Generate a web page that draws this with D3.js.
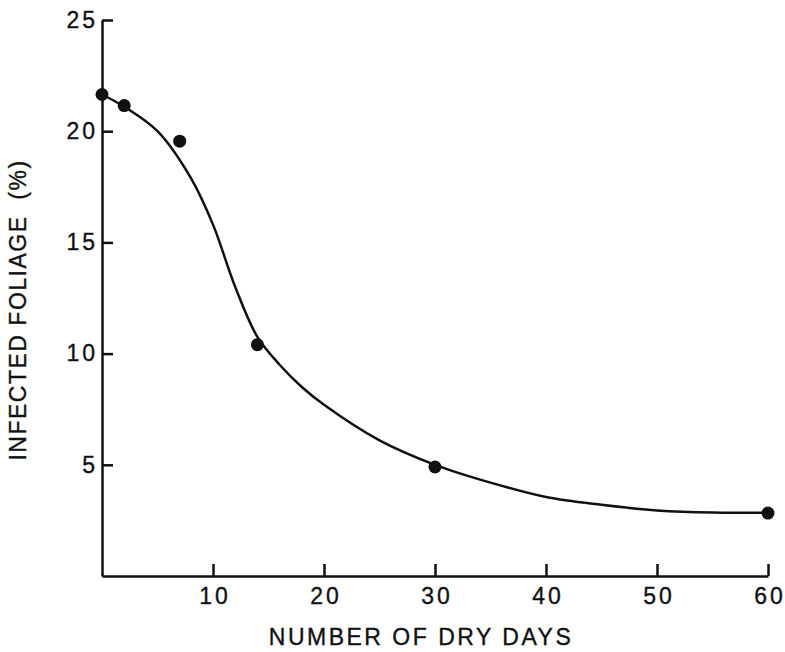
<!DOCTYPE html>
<html>
<head>
<meta charset="utf-8">
<script src="https://cdn.jsdelivr.net/npm/d3@7"></script>
<style>
  body { margin: 0; background: #fff; }
  svg text { font-family: "Liberation Sans", Arial, Helvetica, sans-serif; fill: #111; stroke: #111; stroke-width: 0.35; }
</style>
</head>
<body>
<svg id="chart"></svg>
<script>
// observed points
let dryDays = [0, 2, 7, 14, 30, 60]
let infected = [21.65, 21.15, 19.55, 10.4, 4.9, 2.83]

// fitted curve
let curveDays = [0, 2, 5, 8, 10, 12, 14, 16, 18, 20, 25, 30, 35, 40, 45, 50, 55, 60]
let curveValues = [21.65, 21.1, 20.0, 17.9, 15.8, 13.0, 10.75, 9.5, 8.5, 7.7, 6.1, 5.0, 4.2, 3.55, 3.2, 2.95, 2.85, 2.85]

let xTicks = [10, 20, 30, 40, 50, 60]
let yTicks = [5, 10, 15, 20, 25]

let width = 785, height = 652
let margin = { left: 102, right: 17, top: 20, bottom: 76 }

let svg = d3.select('#chart')
    .attr('width', width)
    .attr('height', height)

let x = d3.scaleLinear()
    .domain([0, 60])
    .range([margin.left, width - margin.right])

let y = d3.scaleLinear()
    .domain([0, 25])
    .range([height - margin.bottom, margin.top])

let xAxis = d3.axisBottom(x)
    .tickValues(xTicks)
    .tickSizeInner(-12)
    .tickSizeOuter(0)
    .tickPadding(12)

let yAxis = d3.axisLeft(y)
    .tickValues(yTicks)
    .tickSizeInner(-11)
    .tickSizeOuter(0)
    .tickPadding(4)

let gx = svg.append('g')
    .attr('transform', `translate(0,${y(0)})`)
    .call(xAxis)

let gy = svg.append('g')
    .attr('transform', `translate(${x(0)},0)`)
    .call(yAxis)

for (let g of [gx, gy]) {
    g.select('.domain').attr('stroke', '#111').attr('stroke-width', 2.5)
    g.selectAll('.tick line').attr('stroke', '#111').attr('stroke-width', 2.5)
    g.selectAll('.tick text')
        .attr('font-size', 23)
        .attr('letter-spacing', 3)
        .attr('font-family', '"Liberation Sans", Arial, sans-serif')
        .attr('fill', '#111')
}
// letter-spacing trails the last glyph; nudge centred labels back
gx.selectAll('.tick text').attr('dx', 1.5)

// fitted curve
let line = d3.line()
    .x((d, i) => x(curveDays[i]))
    .y(d => y(d))
    .curve(d3.curveCatmullRom.alpha(0.5))

svg.append('path')
    .datum(curveValues)
    .attr('fill', 'none')
    .attr('stroke', '#111')
    .attr('stroke-width', 2.5)
    .attr('d', line)

// data points
svg.selectAll('circle.pt')
    .data(infected)
    .enter().append('circle')
    .attr('class', 'pt')
    .attr('cx', (d, i) => x(dryDays[i]))
    .attr('cy', d => y(d))
    .attr('r', 6.5)
    .attr('fill', '#111')

// axis titles
svg.append('text')
    .attr('x', 421)
    .attr('y', 645)
    .attr('text-anchor', 'middle')
    .attr('font-size', 23)
    .attr('letter-spacing', 2.5)
    .text('NUMBER OF DRY DAYS')

svg.append('text')
    .attr('transform', 'translate(26,310) rotate(-90)')
    .attr('text-anchor', 'middle')
    .attr('font-size', 23)
    .attr('letter-spacing', 1.5)
    .attr('xml:space', 'preserve')
    .style('white-space', 'pre')
    .text('INFECTED FOLIAGE  (%)')
</script>
</body>
</html>
